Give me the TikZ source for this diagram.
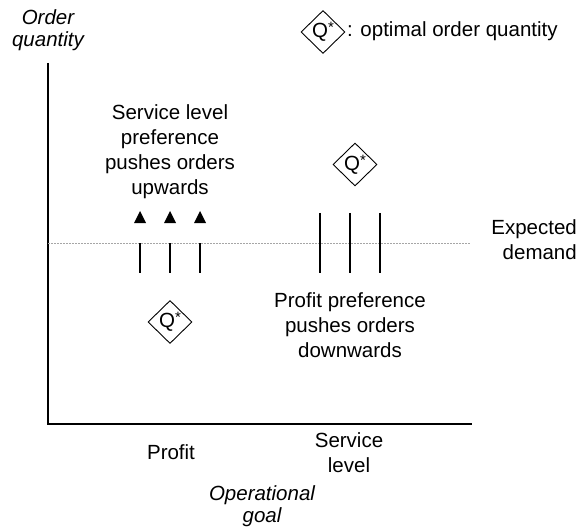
\documentclass[tikz,border=0pt]{standalone}
\usepackage{fontspec}
\setmainfont{Liberation Sans}
\usetikzlibrary{shapes.geometric}

\newcommand{\qopt}{Q\raisebox{0.5ex}{\fontsize{15}{15}\selectfont *}}

\begin{document}
\begin{tikzpicture}[x=1pt, y=-1pt,
  every node/.style={font=\fontsize{20.5}{25}\selectfont, inner sep=0pt},
  axislabel/.style={font=\fontsize{20.5}{22}\selectfont\itshape},
  qstar/.style={draw, diamond, line width=0.9pt, minimum width=44pt, minimum height=43pt},
  axisline/.style={line width=1.5pt},
  tick/.style={line width=1.2pt}]
% Fix the page size
\useasboundingbox (0,0) rectangle (580,529);

% Axes
\coordinate (origin) at (48,424);
\coordinate (ytop) at (48,63);
\coordinate (xend) at (472,424);
\draw[axisline] (ytop) -- (origin) -- (xend);
% (base of a multi-line node = last line)
\node[axislabel, anchor=base, align=center] (orderqty) at (48,47) {Order\\quantity};
\node[axislabel, anchor=base, align=center] (opgoal) at (262,522) {Operational\\goal};

% Expected demand
\coordinate (dleft) at (48,243);
\coordinate (dright) at (470,243);
\draw[gray!70, line width=1pt, dash pattern=on 2pt off 1pt] (dleft) -- (dright);
\node[anchor=base east, align=right] (demand) at (577,259) {Expected\\demand};

% Legend
\node[qstar] (legendq) at (323,32) {\qopt};
\node[anchor=base west] (legendtxt) at (347,37) {: optimal order quantity};

% Profit side
\foreach \x in {140,170,200} {
  \fill (\x,211) -- (\x+6,223) -- (\x-6,223) -- cycle;
  \draw[tick] (\x,243) -- (\x,273);
}
\node[anchor=base, align=center] (svcpush) at (170,195) {Service level\\preference\\pushes orders\\upwards};
\node[qstar] (qprofit) at (170,322) {\qopt};
\node[anchor=base] (profit) at (171,459) {Profit};

% Service level side
\foreach \x in {320,350,380}
  \draw[tick] (\x,213) -- (\x,273);
\node[qstar] (qservice) at (355,164.5) {\qopt};
\node[anchor=base, align=center] (profpush) at (350,357) {Profit preference\\pushes orders\\downwards};
\node[anchor=base, align=center] (service) at (349,472) {Service\\level};
\end{tikzpicture}
\end{document}
